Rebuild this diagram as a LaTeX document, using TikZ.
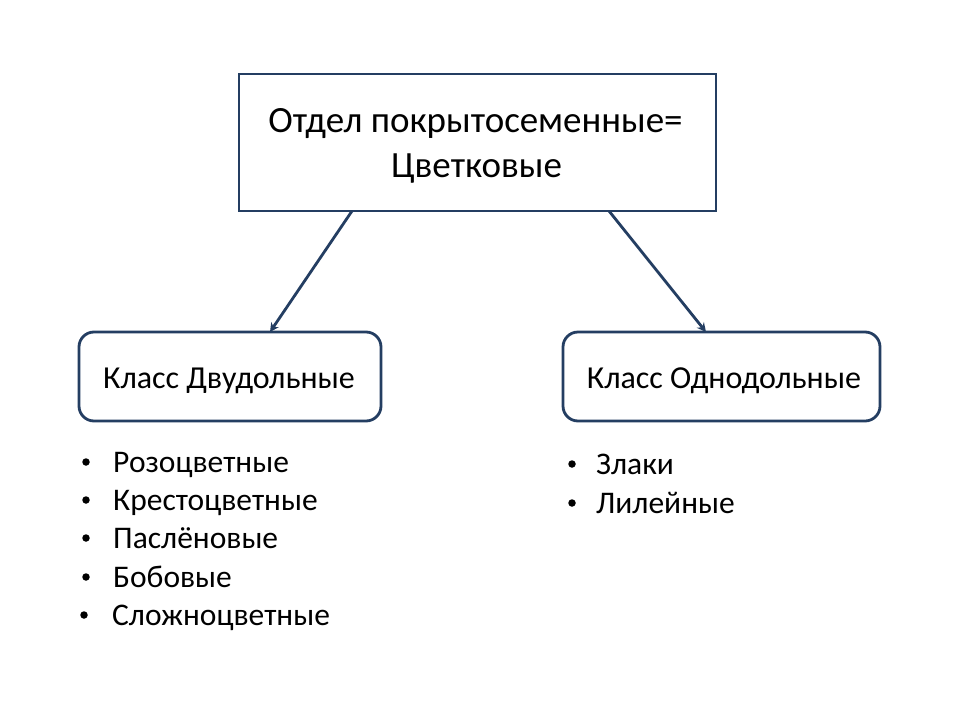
\documentclass[tikz,border=0pt]{standalone}
\usepackage{fontspec}
\setmainfont{Carlito}
\usetikzlibrary{arrows.meta}
\definecolor{navy}{RGB}{36,62,98}
\tikzset{
  frame/.style={draw=navy, line width=2.8pt, inner sep=0pt, outer sep=0pt},
  classbox/.style={frame, rounded corners=15pt},
  conn/.style={draw=navy, line width=2.8pt, -{Stealth[length=9pt,width=9pt]}},
  bigtxt/.style={font=\fontsize{37}{45}\selectfont, anchor=base, inner sep=0pt},
  midtxt/.style={font=\fontsize{32}{38}\selectfont, anchor=base, inner sep=0pt},
  item/.style={font=\fontsize{31.5}{38}\selectfont, anchor=base west, inner sep=0pt},
  dot/.style={circle, fill=black, inner sep=0pt, minimum size=7.5pt}
}
\begin{document}
\begin{tikzpicture}[x=1pt, y=-1pt]
\useasboundingbox[fill=white] (0,0) rectangle (960,720);
% boxes
\node[frame, minimum width=477pt, minimum height=137pt] (top) at (477.5,142.5) {};
\node[classbox, minimum width=302pt, minimum height=89pt] (left) at (230,376.5) {};
\node[classbox, minimum width=317pt, minimum height=89pt] (right) at (721.5,376.5) {};
% texts
\node[bigtxt] (t1) at (475.5,132) {Отдел покрытосеменные=};
\node[bigtxt] (t2) at (476.5,177) {Цветковые};
\node[midtxt] (lt) at (229,388) {Класс Двудольные};
\node[midtxt] (rt) at (724,388) {Класс Однодольные};
% connectors
\coordinate (a1) at (352,211);
\coordinate (b1) at (270,332);
\coordinate (a2) at (609,211);
\coordinate (b2) at (706,332);
\draw[conn] (a1) -- (b1);
\draw[conn] (a2) -- (b2);
% left list
\node[item] (l1) at (113,472) {Розоцветные};
\node[item] (l2) at (113,510) {Крестоцветные};
\node[item] (l3) at (113,548) {Паслёновые};
\node[item] (l4) at (113,587) {Бобовые};
\node[item] (l5) at (112,625) {Сложноцветные};
\node[dot] (d1) at (86,462) {};
\node[dot] (d2) at (86,500) {};
\node[dot] (d3) at (86,538) {};
\node[dot] (d4) at (86,577) {};
\node[dot] (d5) at (84,615) {};
% right list
\node[item] (r1) at (596,474) {Злаки};
\node[item] (r2) at (596,513) {Лилейные};
\node[dot] (e1) at (572,464) {};
\node[dot] (e2) at (572,503) {};
\end{tikzpicture}
\end{document}
